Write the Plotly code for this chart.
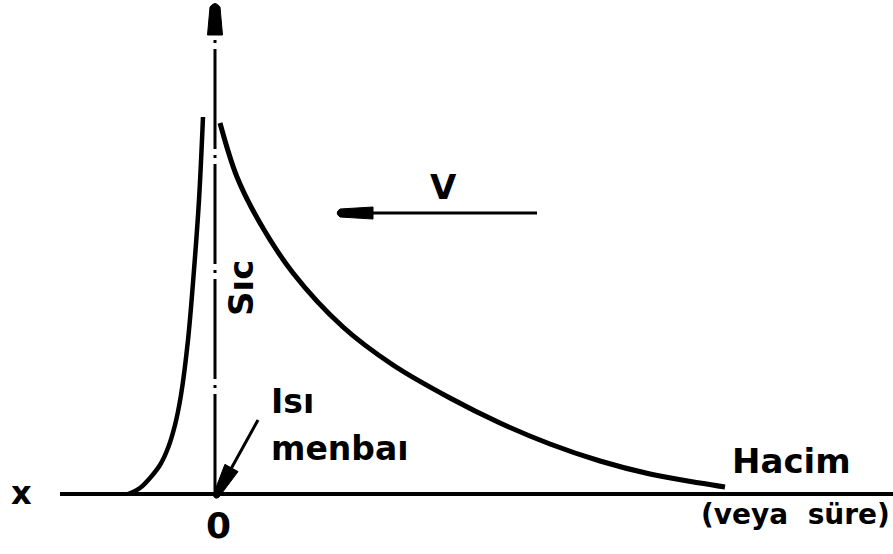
import math
import plotly.graph_objects as go

# Temperature curve left of the heat source (rise)
left_x = [-0.87, -0.75, -0.65, -0.55, -0.47, -0.40, -0.34, -0.27, -0.21, -0.16, -0.12]
left_y = [0.00, 0.06, 0.16, 0.29, 0.46, 0.69, 0.99, 1.54, 2.24, 2.94, 3.77]

# Temperature curve right of the heat source (decay)
right_x = [0.05, 0.22, 0.45, 0.78, 1.28, 1.78, 2.35, 2.85, 3.35, 3.85, 4.35, 4.85, 5.10]
right_y = [3.71, 3.17, 2.71, 2.21, 1.67, 1.29, 0.96, 0.71, 0.50, 0.33, 0.20, 0.11, 0.07]

FONT = "DejaVu Sans"
INK = "black"

fig = go.Figure()
fig.add_trace(go.Scatter(x=left_x, y=left_y, mode="lines",
                         line=dict(color=INK, width=4.5, shape="spline", smoothing=1.0),
                         hoverinfo="skip", showlegend=False))
fig.add_trace(go.Scatter(x=right_x, y=right_y, mode="lines",
                         line=dict(color=INK, width=5, shape="spline", smoothing=1.0),
                         hoverinfo="skip", showlegend=False))


def bullet(tip, tail, length, w_tip, w_back):
    """SVG path of a tapered, round-nosed arrow head pointing at tip."""
    tx, ty = tip
    dx, dy = tail[0] - tx, tail[1] - ty
    n = math.hypot(dx, dy)
    dx, dy = dx / n, dy / n
    px, py = -dy, dx
    A = (tx + px * w_tip, ty + py * w_tip)
    B = (tx + dx * length + px * w_back, ty + dy * length + py * w_back)
    C = (tx + dx * length - px * w_back, ty + dy * length - py * w_back)
    D = (tx - px * w_tip, ty - py * w_tip)
    Q = (tx - dx * w_tip * 1.4, ty - dy * w_tip * 1.4)
    f = lambda p: f"{p[0]:.4f},{p[1]:.4f}"
    return f"M{f(A)} L{f(B)} L{f(C)} L{f(D)} Q{f(Q)} {f(A)} Z"


def arrow(tip, tail, length, w_tip, w_back, width=3):
    n = math.hypot(tail[0] - tip[0], tail[1] - tip[1])
    fig.add_shape(type="line", x0=tail[0], y0=tail[1],
                  x1=tip[0] + (tail[0] - tip[0]) * 0.5 * length / n,
                  y1=tip[1] + (tail[1] - tip[1]) * 0.5 * length / n,
                  line=dict(color=INK, width=width))
    fig.add_shape(type="path", path=bullet(tip, tail, length, w_tip, w_back),
                  fillcolor=INK, line=dict(color=INK, width=1))


# baseline (x axis)
fig.add_shape(type="line", x0=-1.55, x1=6.8, y0=0, y1=0,
              line=dict(color=INK, width=4))
# vertical dash-dot axis
fig.add_shape(type="line", x0=0, x1=0, y0=0, y1=4.62,
              line=dict(color=INK, width=3, dash="100px,6px,3px,6px"))
# arrow head of vertical axis
fig.add_shape(type="path", path=bullet((0, 4.87), (0, 4.0), 0.28, 0.05, 0.075),
              fillcolor=INK, line=dict(color=INK, width=1))
# V arrow (pointing left)
arrow((1.25, 2.81), (3.22, 2.81), 0.33, 0.04, 0.06)
# heat source arrow
arrow((0.01, -0.02), (0.43, 0.74), 0.32, 0.03, 0.075)

annotations = []


def txt(s, x, y, size, angle=0, xanchor="center", bold=True):
    annotations.append(dict(x=x, y=y, xref="x", yref="y", text=s, showarrow=False,
                            font=dict(family=FONT, size=size, color=INK,
                                      weight="bold" if bold else "normal"),
                            textangle=angle, xanchor=xanchor, yanchor="middle"))


txt("V", 2.28, 3.07, 34)
txt("Sıc", 0.26, 2.06, 34, angle=-90)
txt("Isı", 0.54, 0.93, 33, xanchor="left")
txt("menbaı", 0.54, 0.46, 33, xanchor="left")
txt("Hacim", 5.76, 0.33, 34)
txt("(veya  süre)", 5.80, -0.20, 28)
txt("x", -1.94, 0.01, 32)
txt("0", 0.03, -0.31, 36)

fig.update_layout(
    annotations=annotations,
    width=893, height=554,
    margin=dict(l=0, r=0, t=0, b=0),
    paper_bgcolor="white", plot_bgcolor="white",
    xaxis=dict(range=[-2.15, 6.78], visible=False, showgrid=False, zeroline=False, fixedrange=True),
    yaxis=dict(range=[-0.60, 4.94], visible=False, showgrid=False, zeroline=False, fixedrange=True),
)

fig.write_html("out.html", config={"displayModeBar": False},
               post_script="document.body.style.margin='0px';document.body.style.overflow='hidden';")
